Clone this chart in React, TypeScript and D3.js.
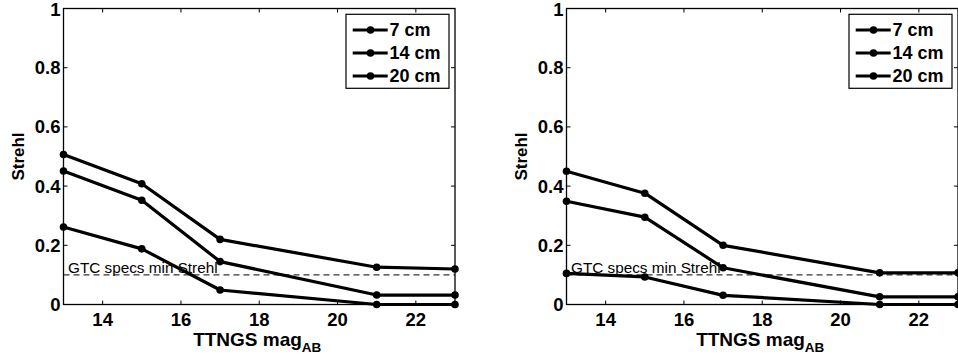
import * as d3 from "d3";
import { useEffect, useRef } from "react";

// TT NGS magnitude (x) vs Strehl, two configurations side by side
const mags = [13, 15, 17, 21, 23];
const seriesNames = ["7 cm", "14 cm", "20 cm"];

const leftStrehl7 = [0.262, 0.188, 0.049, 0, 0];
const leftStrehl14 = [0.451, 0.352, 0.145, 0.032, 0.032];
const leftStrehl20 = [0.507, 0.408, 0.22, 0.126, 0.12];

const rightStrehl7 = [0.105, 0.093, 0.031, 0, 0];
const rightStrehl14 = [0.349, 0.295, 0.124, 0.026, 0.026];
const rightStrehl20 = [0.45, 0.376, 0.2, 0.107, 0.107];

const xTicks = [14, 16, 18, 20, 22];
const yTicks = [0, 0.2, 0.4, 0.6, 0.8, 1];
const specMin = 0.1;
const specLabel = "GTC specs min Strehl";

const FONT = "'Liberation Sans', Arial, Helvetica, sans-serif";

interface PanelProps {
  left: number;
  series: number[][];
}

function Panel({ left, series }: PanelProps) {
  const ref = useRef<SVGGElement>(null);

  useEffect(() => {
    if (!ref.current) return;
    const g = d3.select(ref.current);
    g.selectAll("*").remove();
    const w = 391.5;
    const top = 8.5;
    const bottom = 304.5;

    const x = d3.scaleLinear().domain([13, 23]).range([0, w]);
    const y = d3.scaleLinear().domain([0, 1]).range([bottom, top]);

    // dashed spec line
    g.append("line")
      .attr("x1", 0)
      .attr("x2", w)
      .attr("y1", y(specMin))
      .attr("y2", y(specMin))
      .attr("stroke", "#000")
      .attr("stroke-width", 1)
      .attr("stroke-dasharray", "6,4");

    // data lines
    const line = d3
      .line<number>()
      .x((_, i) => x(mags[i]))
      .y((d) => y(d));
    for (const s of series) {
      g.append("path")
        .attr("d", line(s))
        .attr("fill", "none")
        .attr("stroke", "#000")
        .attr("stroke-width", 3.2)
        .attr("stroke-linejoin", "round");
      g.append("g")
        .selectAll("circle")
        .data(s)
        .enter()
        .append("circle")
        .attr("cx", (_, i) => x(mags[i]))
        .attr("cy", (d) => y(d))
        .attr("r", 3.8)
        .attr("fill", "#000");
    }

    g.append("text")
      .attr("x", 4.5)
      .attr("y", y(specMin) - 2)
      .attr("font-family", FONT)
      .attr("font-size", 15.3)
      .attr("fill", "#000")
      .text(specLabel);

    // box + inward ticks
    g.append("rect")
      .attr("x", 0)
      .attr("y", top)
      .attr("width", w)
      .attr("height", bottom - top)
      .attr("fill", "none")
      .attr("stroke", "#000")
      .attr("stroke-width", 1.3);
    const tl = 4;
    for (const t of xTicks) {
      g.append("line")
        .attr("x1", x(t)).attr("x2", x(t))
        .attr("y1", bottom).attr("y2", bottom - tl)
        .attr("stroke", "#000");
      g.append("line")
        .attr("x1", x(t)).attr("x2", x(t))
        .attr("y1", top).attr("y2", top + tl)
        .attr("stroke", "#000");
      g.append("text")
        .attr("x", x(t))
        .attr("y", 325.5)
        .attr("text-anchor", "middle")
        .attr("font-family", FONT)
        .attr("font-weight", "bold")
        .attr("font-size", 18.5)
        .text(t);
    }
    for (const t of yTicks) {
      g.append("line")
        .attr("x1", 0).attr("x2", tl)
        .attr("y1", y(t)).attr("y2", y(t))
        .attr("stroke", "#000");
      g.append("line")
        .attr("x1", w).attr("x2", w - tl)
        .attr("y1", y(t)).attr("y2", y(t))
        .attr("stroke", "#000");
      g.append("text")
        .attr("x", -3)
        .attr("y", Math.max(y(t) + 6.5, 15.5))
        .attr("text-anchor", "end")
        .attr("font-family", FONT)
        .attr("font-weight", "bold")
        .attr("font-size", 18.5)
        .text(d3.format("~g")(t));
    }

    // axis labels
    const xl = g
      .append("text")
      .attr("x", (w) / 2 - 2)
      .attr("y", 345.5)
      .attr("text-anchor", "middle")
      .attr("font-family", FONT)
      .attr("font-weight", "bold")
      .attr("font-size", 19);
    xl.append("tspan").text("TTNGS mag");
    xl.append("tspan")
      .attr("dy", 6)
      .attr("font-size", 13.5)
      .text("AB");
    g.append("text")
      .attr("transform", `translate(-39.5,${(top + bottom) / 2}) rotate(-90)`)
      .attr("text-anchor", "middle")
      .attr("font-family", FONT)
      .attr("font-weight", "bold")
      .attr("font-size", 17)
      .text("Strehl");

    // legend
    const lw = 103;
    const lg = g
      .append("g")
      .attr("transform", `translate(${w - lw - 6},14.3)`);
    lg.append("rect")
      .attr("width", lw)
      .attr("height", 74)
      .attr("fill", "#fff")
      .attr("stroke", "#000")
      .attr("stroke-width", 1.2);
    seriesNames.forEach((name, i) => {
      const cy = 15.7 + i * 23;
      lg.append("line")
        .attr("x1", 6.7).attr("x2", 41.7)
        .attr("y1", cy).attr("y2", cy)
        .attr("stroke", "#000")
        .attr("stroke-width", 3.2);
      lg.append("circle")
        .attr("cx", 24.5)
        .attr("cy", cy)
        .attr("r", 3.8)
        .attr("fill", "#000");
      lg.append("text")
        .attr("x", 43.5)
        .attr("y", cy + 6.3)
        .attr("font-family", FONT)
        .attr("font-weight", "bold")
        .attr("font-size", 18)
        .text(name);
    });
  }, [left, series]);

  return <g ref={ref} transform={`translate(${left},0)`} />;
}

export default function App() {
  return (
    <svg
      width={958}
      height={362}
      style={{ position: "absolute", left: 0, top: 0, background: "#fff" }}
    >
      <Panel left={63.5} series={[leftStrehl7, leftStrehl14, leftStrehl20]} />
      <Panel left={566.5} series={[rightStrehl7, rightStrehl14, rightStrehl20]} />
    </svg>
  );
}
